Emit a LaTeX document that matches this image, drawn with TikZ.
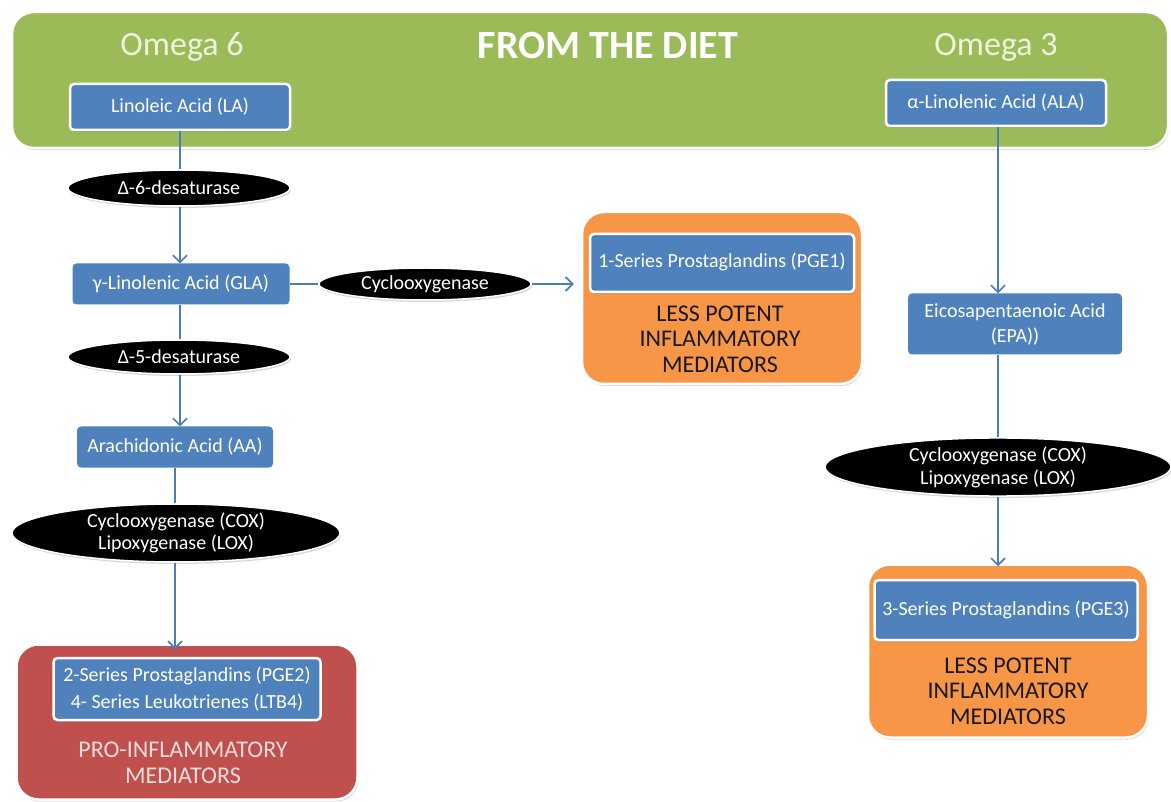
\documentclass[tikz,border=0pt]{standalone}
\usepackage{fontspec}
\setmainfont{Carlito}
\usetikzlibrary{arrows.meta,shapes.geometric,shadows}
\definecolor{dietgreen}{HTML}{9BBB59}
\definecolor{boxblue}{HTML}{4F81BD}
\definecolor{lineblue}{HTML}{4A7EBB}
\definecolor{lessorange}{HTML}{F79646}
\definecolor{prored}{HTML}{C0504D}
\definecolor{creamtxt}{HTML}{EEF3DC}
\definecolor{pinktxt}{HTML}{F2DCDB}
\tikzset{
  shd/.style={drop shadow={shadow xshift=1pt,shadow yshift=-2pt,opacity=0.25,fill=black!60}},
  acid/.style={draw=none,fill=boxblue,rounded corners=4pt,text=white,font=\fontsize{20}{24}\selectfont,align=center,inner sep=0pt},
  acidw/.style={acid,draw=white,line width=2.5pt,shd},
  enzyme/.style={ellipse,fill=black,draw=white,line width=1.5pt,text=white,font=\fontsize{20}{22}\selectfont,align=center,inner sep=0pt,shd},
  group/.style={rounded corners=22pt,draw=white,line width=2.5pt,inner sep=0pt,shd},
  grouptxt/.style={font=\fontsize{24}{25.5}\selectfont,align=center},
  conn/.style={draw=lineblue,line width=1.6pt},
  arr/.style={conn,-{Straight Barb[length=7pt,width=14pt,line width=1.6pt]}}
}
\begin{document}
\begin{tikzpicture}[x=1pt,y=-1pt]
\useasboundingbox[fill=white] (0,0) rectangle (1171,802);
% banner
\node[group,fill=dietgreen,minimum width=1156pt,minimum height=136pt] (diet) at (590,80) {};
\node[font=\fontsize{34}{38}\selectfont,text=creamtxt] (om6) at (182,47) {Omega 6};
\node[font=\bfseries\fontsize{40}{44}\selectfont,text=white] (dietlbl) at (608,46) {FROM THE DIET};
\node[font=\fontsize{34}{38}\selectfont,text=creamtxt] (om3) at (996,47) {Omega 3};
\node[acidw,minimum width=220pt,minimum height=46pt] (LA) at (180,107) {Linoleic Acid (LA)};
\node[acidw,minimum width=220pt,minimum height=46pt] (ALA) at (996,103) {α-Linolenic Acid (ALA)};
% left column
\node[enzyme,minimum width=222pt,minimum height=36pt] (d6) at (179,188) {Δ-6-desaturase};
\node[acid,minimum width=217pt,minimum height=41pt] (GLA) at (181,284) {γ-Linolenic Acid (GLA)};
\node[enzyme,minimum width=212pt,minimum height=32pt] (cyc) at (425,284) {Cyclooxygenase};
\node[enzyme,minimum width=222pt,minimum height=34pt] (d5) at (179,357) {Δ-5-desaturase};
\node[acid,minimum width=196pt,minimum height=41pt] (AA) at (175,447) {Arachidonic Acid (AA)};
\node[enzyme,minimum width=328pt,minimum height=58pt] (cox6) at (176,533) {Cyclooxygenase (COX)\\Lipoxygenase (LOX)};
% PGE1 group
\node[group,fill=lessorange,minimum width=280pt,minimum height=172pt] (o1) at (722,298) {};
\node[acidw,minimum width=264pt,minimum height=58pt] (p1) at (722,263) {\raisebox{6pt}{1-Series Prostaglandins (PGE1)}};
\node[grouptxt,text=black!90] (less1) at (720,339) {LESS POTENT\\INFLAMMATORY\\MEDIATORS};
% PGE2 group
\node[group,fill=prored,minimum width=341pt,minimum height=155pt] (red) at (187,722) {};
\node[acidw,font=\fontsize{20}{27}\selectfont,minimum width=267pt,minimum height=62pt] (p2) at (187,689) {2-Series Prostaglandins (PGE2)\\4- Series Leukotrienes (LTB4)};
\node[grouptxt,text=pinktxt] (pro) at (183,763) {PRO-INFLAMMATORY\\MEDIATORS};
% right column
\node[acid,font=\fontsize{20}{25}\selectfont,minimum width=214pt,minimum height=61pt] (EPA) at (1015,324) {Eicosapentaenoic Acid\\(EPA))};
\node[enzyme,font=\fontsize{20}{23}\selectfont,minimum width=346pt,minimum height=57pt] (cox3) at (998,467) {Cyclooxygenase (COX)\\Lipoxygenase (LOX)};
\node[group,fill=lessorange,minimum width=280pt,minimum height=173pt] (o3) at (1008,651) {};
\node[acidw,minimum width=263pt,minimum height=60pt] (p3) at (1006,610) {\raisebox{4pt}{3-Series Prostaglandins (PGE3)}};
\node[grouptxt,text=black!90] (less3) at (1008,691) {LESS POTENT\\INFLAMMATORY\\MEDIATORS};
% connectors
\draw[conn] (LA.south) -- (LA.south |- d6.north);
\draw[arr] (LA.south |- d6.south) -- (LA.south |- GLA.north);
\draw[conn] (LA.south |- GLA.south) -- (LA.south |- d5.north);
\draw[arr] (LA.south |- d5.south) -- (LA.south |- AA.north);
\draw[conn] (AA.south) -- (AA.south |- cox6.north);
\draw[arr] (AA.south |- cox6.south) -- ([yshift=-6pt]AA.south |- red.north);
\draw[conn] (GLA.east) -- (cyc.west);
\draw[arr] (cyc.east) -- ([xshift=-7pt]o1.west |- cyc.east);
\draw[arr] ([xshift=2pt]ALA.south) -- ([xshift=2pt]ALA.south |- EPA.north);
\draw[conn] (cox3.north |- EPA.south) -- (cox3.north);
\draw[arr] (cox3.south) -- ([yshift=-3pt]cox3.south |- o3.north);
\end{tikzpicture}
\end{document}
